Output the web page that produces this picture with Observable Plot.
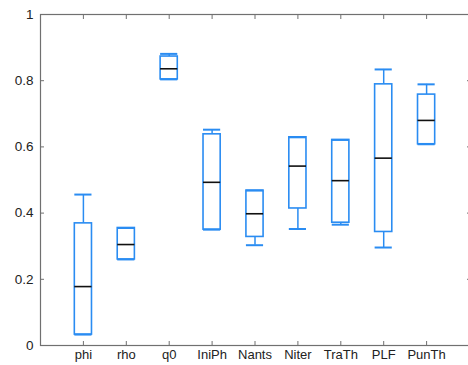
<!DOCTYPE html>
<html>
<head>
<meta charset="utf-8">
<script src="https://cdn.jsdelivr.net/npm/d3@7"></script>
<script src="https://cdn.jsdelivr.net/npm/@observablehq/plot@0.6"></script>
<style>
  html, body { margin: 0; padding: 0; background: #fff; }
  #chart svg { display: block; }
</style>
</head>
<body>
<div id="chart"></div>
<script>
const categories = ["phi", "rho", "q0", "IniPh", "Nants", "Niter", "TraTh", "PLF", "PunTh"];
const lowerWhisker = [0.033, 0.260, 0.804, 0.350, 0.303, 0.352, 0.365, 0.296, 0.608];
const q1 = [0.033, 0.260, 0.804, 0.350, 0.328, 0.414, 0.371, 0.343, 0.608];
const median = [0.178, 0.305, 0.836, 0.493, 0.398, 0.542, 0.498, 0.566, 0.680];
const q3 = [0.369, 0.355, 0.873, 0.638, 0.468, 0.629, 0.621, 0.789, 0.758];
const upperWhisker = [0.456, 0.355, 0.881, 0.652, 0.468, 0.629, 0.621, 0.834, 0.789];
const yTicks = [0, 0.2, 0.4, 0.6, 0.8, 1];

const rows = categories.map((c, i) => ({
  cat: c, lo: lowerWhisker[i], q1: q1[i], med: median[i], q3: q3[i], hi: upperWhisker[i]
}));

const blue = "#2a8cf2";
const axisColor = "#707070";

const chart = Plot.plot({
  width: 468,
  height: 365,
  marginLeft: 40,
  marginRight: -2,
  marginTop: 14,
  marginBottom: 20,
  style: { fontFamily: "'Liberation Sans', Arial, sans-serif", fontSize: "13px", color: "#222", background: "#fff" },
  x: { type: "band", domain: categories, range: [40, 469], round: false, paddingInner: 0.6, paddingOuter: 0.8, label: null },
  y: { domain: [0, 1], label: null },
  marks: [
    Plot.ruleX(rows, { x: "cat", y1: "q3", y2: "hi", stroke: blue, strokeWidth: 1.5 }),
    Plot.ruleX(rows, { x: "cat", y1: "lo", y2: "q1", stroke: blue, strokeWidth: 1.5 }),
    Plot.barY(rows, { x: "cat", y1: "q1", y2: "q3", fill: "white", stroke: blue, strokeWidth: 1.6 }),
    Plot.tickY(rows, { x: "cat", y: "hi", stroke: blue, strokeWidth: 2 }),
    Plot.tickY(rows, { x: "cat", y: "lo", stroke: blue, strokeWidth: 2 }),
    Plot.tickY(rows, { x: "cat", y: "med", stroke: "#111", strokeWidth: 1.6 }),
    Plot.frame({ stroke: axisColor, strokeWidth: 1.2 }),
    Plot.axisY(yTicks, { anchor: "left", tickSize: -4, stroke: axisColor, fill: "none", label: null }),
    Plot.axisY(yTicks, { anchor: "left", tickSize: 0, tickPadding: 7, fill: "#222", fontSize: 13.5, tickFormat: d => String(d), label: null }),
    Plot.axisY(yTicks, { anchor: "right", tickSize: -4, stroke: axisColor, fill: "none", label: null }),
    Plot.axisX({ anchor: "bottom", tickSize: -4, stroke: axisColor, fill: "none", label: null }),
    Plot.axisX({ anchor: "bottom", tickSize: 0, tickPadding: 4, fill: "#222", fontSize: 13, label: null }),
    Plot.axisX({ anchor: "top", tickSize: -4, stroke: axisColor, fill: "none", label: null })
  ]
});
document.getElementById("chart").appendChild(chart);
</script>
</body>
</html>
